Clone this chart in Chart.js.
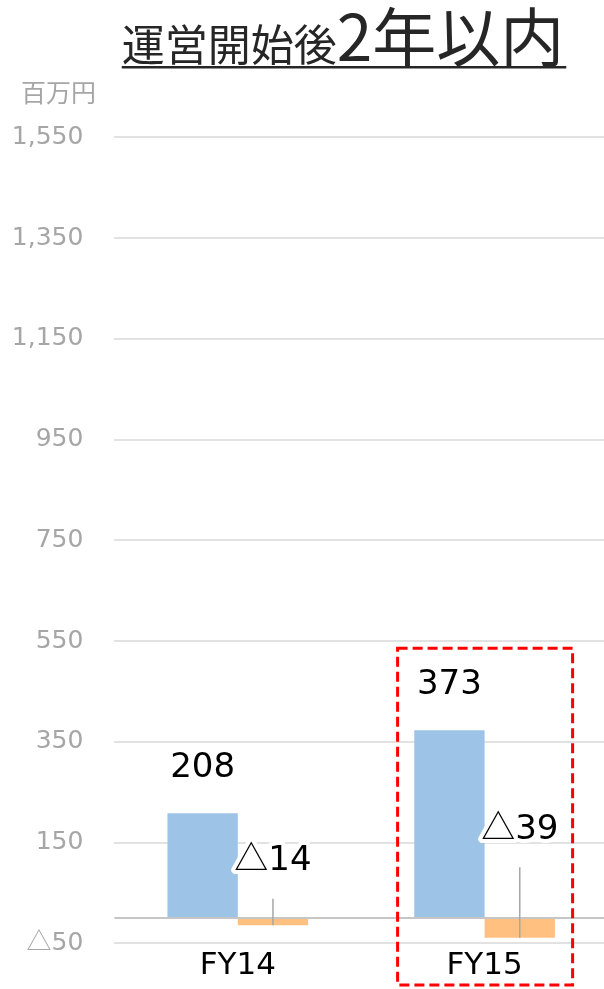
<!DOCTYPE html>
<html lang="ja">
<head>
<meta charset="utf-8">
<script src="https://cdn.jsdelivr.net/npm/chart.js@4/dist/chart.umd.min.js"></script>
<style>
  html, body { margin: 0; background: #fff; }
  #wrap { width: 604px; height: 989px; overflow: hidden; }
  canvas { display: block; }
</style>
</head>
<body>
<div id="wrap"><canvas id="c" width="608" height="989"></canvas></div>
<script>
const categories = ["FY14", "FY15"];
const sales = [208, 373];
const profit = [-14, -39];
const yTicks = [-50, 0, 150, 350, 550, 750, 950, 1150, 1350, 1550];
const titleSmall = "運営開始後";
const titleLarge = "2年以内";
const unitLabel = "百万円";

// label placement (px), tuned to the original layout
const style = {
  posLabelGap: 36.5,
  negLabelGap: [55, 99],
  leaderGap: 28.5,
  highlight: 1,
};

// negative numbers are written with a leading triangle, Japanese style;
// the triangle comes from the CJK font, the digits from DejaVu
const drawValue = (ctx, v, x, y, { size, color, align = "center", halo = false }) => {
  const digits = Math.abs(v).toLocaleString("en-US");
  const triFont = `${size}px "Noto Sans CJK JP"`;
  const numFont = `${size}px "DejaVu Sans"`;
  ctx.save();
  ctx.textBaseline = "alphabetic";
  ctx.textAlign = "left";
  ctx.font = triFont;
  const tw = v < 0 ? ctx.measureText("△").width : 0;
  ctx.font = numFont;
  const nw = ctx.measureText(digits).width;
  const total = tw + nw;
  let sx = align === "right" ? x - total : x - total / 2;
  const parts = [];
  if (v < 0) parts.push(["△", triFont, sx]);
  parts.push([digits, numFont, sx + tw]);
  if (halo) {
    ctx.lineJoin = "round";
    ctx.strokeStyle = "#fff";
    ctx.lineWidth = 8;
    parts.forEach(([t, f, px]) => {
      ctx.font = f;
      ctx.strokeText(t, px, y);
    });
  }
  ctx.fillStyle = color;
  parts.forEach(([t, f, px]) => {
    ctx.font = f;
    ctx.fillText(t, px, y);
  });
  ctx.restore();
};

const decorations = {
  id: "decorations",
  afterDatasetsDraw(chart) {
    const { ctx, chartArea, scales } = chart;
    const y0 = scales.y.getPixelForValue(0);

    // zero line over the bars
    ctx.save();
    ctx.strokeStyle = "#c6c6c6";
    ctx.lineWidth = 2;
    ctx.beginPath();
    ctx.moveTo(chartArea.left, y0);
    ctx.lineTo(chartArea.right, y0);
    ctx.stroke();
    ctx.restore();

    // y tick labels
    scales.y.ticks.forEach(({ value }) => {
      if (value === 0) return;
      drawValue(ctx, value, chartArea.left - 31, scales.y.getPixelForValue(value) + 6.5, {
        size: 25,
        color: "#a6a6a6",
        align: "right",
      });
    });

    const blue = chart.getDatasetMeta(0).data;
    const orange = chart.getDatasetMeta(1).data;

    blue.forEach((bar, i) => {
      drawValue(ctx, sales[i], bar.x, bar.y - style.posLabelGap, { size: 34, color: "#000", halo: true });
    });

    orange.forEach((bar, i) => {
      const ty = bar.y - style.negLabelGap[i];
      ctx.save();
      ctx.strokeStyle = "#a6a6a6";
      ctx.lineWidth = 1.5;
      ctx.beginPath();
      ctx.moveTo(bar.x, ty + style.leaderGap);
      ctx.lineTo(bar.x, bar.y);
      ctx.stroke();
      ctx.restore();
      drawValue(ctx, profit[i], bar.x, ty, { size: 34, color: "#000", halo: true });
    });

    // red dashed highlight around FY15
    const cx = scales.x.getPixelForValue(style.highlight);
    const top = blue[style.highlight].y - 82;
    ctx.save();
    ctx.strokeStyle = "#ff0000";
    ctx.lineWidth = 3;
    ctx.setLineDash([10, 5]);
    ctx.strokeRect(cx - 87, top, 175, chart.height - 4 - top);
    ctx.restore();
  },
  afterDraw(chart) {
    const { ctx } = chart;
    ctx.save();
    // unit
    ctx.font = '25px "Noto Sans CJK JP"';
    ctx.fillStyle = "#a6a6a6";
    ctx.textBaseline = "alphabetic";
    ctx.textAlign = "left";
    ctx.fillText(unitLabel, 21, 102);

    // title with mixed sizes, underlined
    const smallFont = '43px "Noto Sans CJK JP"';
    const largeFont = '64px "Noto Sans CJK JP"';
    ctx.font = smallFont;
    const w1 = ctx.measureText(titleSmall).width;
    ctx.font = largeFont;
    const w2 = ctx.measureText(titleLarge).width;
    const x0 = 343 - (w1 + w2) / 2;
    ctx.fillStyle = "#262626";
    ctx.font = smallFont;
    ctx.fillText(titleSmall, x0, 61);
    ctx.font = largeFont;
    ctx.fillText(titleLarge, x0 + w1, 61);
    ctx.fillRect(x0, 66, w1 + w2 + 2, 2.5);
    ctx.restore();
  },
};

new Chart(document.getElementById("c"), {
  type: "bar",
  data: {
    labels: categories,
    datasets: [
      { label: "売上高", data: sales, backgroundColor: "#9dc3e6" },
      { label: "営業利益", data: profit, backgroundColor: "#ffc080" },
    ],
  },
  options: {
    responsive: false,
    animation: false,
    layout: { padding: { top: 137.3, right: 0, bottom: 0, left: 0 } },
    datasets: { bar: { categoryPercentage: 0.57, barPercentage: 1.0 } },
    plugins: {
      legend: { display: false },
      tooltip: { enabled: false },
    },
    scales: {
      x: {
        grid: { display: false },
        border: { display: false },
        ticks: {
          color: "#000",
          font: { family: "DejaVu Sans", size: 31 },
          padding: -4,
        },
        afterFit: (s) => {
          s.height = 45.7;
        },
      },
      y: {
        min: -50,
        max: 1550,
        afterBuildTicks: (axis) => {
          axis.ticks = yTicks.map((value) => ({ value }));
        },
        border: { display: false },
        grid: {
          drawTicks: false,
          lineWidth: 2,
          color: (c) => (c.tick && c.tick.value === 0 ? "rgba(0,0,0,0)" : "#e2e2e2"),
        },
        ticks: { display: false },
        afterFit: (s) => {
          s.width = 114.4;
        },
      },
    },
  },
  plugins: [decorations],
});
</script>
</body>
</html>
